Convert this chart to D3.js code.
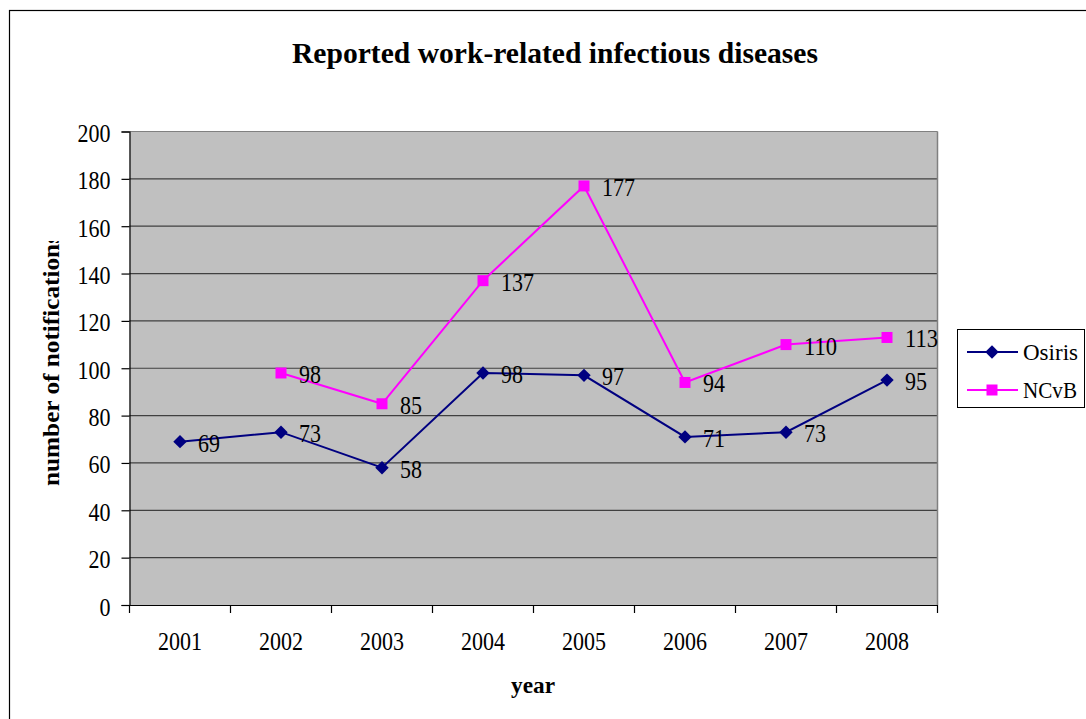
<!DOCTYPE html>
<html><head><meta charset="utf-8">
<script src="https://cdn.jsdelivr.net/npm/d3@7"></script>
<style>body{margin:0;background:#fff}svg{display:block}text{font-family:"Liberation Serif","Times New Roman",serif}</style>
</head><body><svg id="c" width="1086" height="719"></svg>
<script>
const years = ["2001","2002","2003","2004","2005","2006","2007","2008"];
const osiris = [69,73,58,98,97,71,73,95];
const ncvb = [null,98,85,137,177,94,110,113];
const yTicks = [0,20,40,60,80,100,120,140,160,180,200];
const seriesNames = ["Osiris","NCvB"];

const svg = d3.select("#c");
const L=129.5, R=937.5, T=131.5, B=605;
const FS = 25, DW = 11;
const fit = sel => sel.attr("textLength", function(){ return this.textContent.length*DW; }).attr("lengthAdjust","spacingAndGlyphs");
svg.append("rect").attr("x",9.5).attr("y",10.5).attr("width",1200).attr("height",800)
  .attr("fill","none").attr("stroke","#000").attr("stroke-width",1.2);

const x = d3.scaleBand().domain(years).range([L,R]);
const y = d3.scaleLinear().domain([0,200]).range([B,T]);

svg.append("rect").attr("x",L).attr("y",T).attr("width",R-L).attr("height",B-T).attr("fill","#c0c0c0");
svg.append("g").selectAll("line").data(yTicks.filter(d=>d>0)).join("line")
  .attr("x1",L).attr("x2",R).attr("y1",d=>y(d)).attr("y2",d=>y(d))
  .attr("stroke",d=>d===200?"#808080":"#404040").attr("stroke-width",1.2);
svg.append("line").attr("x1",R).attr("x2",R).attr("y1",T).attr("y2",B).attr("stroke","#808080").attr("stroke-width",1.5);

const ya = svg.append("g").attr("transform",`translate(${L},0)`)
  .call(d3.axisLeft(y).tickValues(yTicks).tickSize(8).tickPadding(11));
ya.select(".domain").attr("stroke","#000").attr("stroke-width",1.2);
ya.selectAll(".tick line").attr("stroke","#000").attr("stroke-width",1.2);
ya.selectAll("text").attr("font-size",FS).attr("font-family","Liberation Serif").attr("fill","#000").attr("dy","0.4em").call(fit);
const xa = svg.append("g").attr("transform",`translate(0,${B})`)
  .call(d3.axisBottom(x).tickSize(0).tickPadding(27));
xa.select(".domain").attr("stroke","#000").attr("stroke-width",1.2);
xa.selectAll("text").attr("font-size",FS).attr("font-family","Liberation Serif").attr("fill","#000").call(fit);
xa.selectAll(".bd").data(d3.range(years.length+1)).join("line")
  .attr("x1",i=>L+i*x.bandwidth()).attr("x2",i=>L+i*x.bandwidth()).attr("y1",0).attr("y2",8)
  .attr("stroke","#000").attr("stroke-width",1.2);

const cx = d => x(d)+x.bandwidth()/2;
const line = d3.line().defined(d=>d.v!=null).x(d=>cx(d.k)).y(d=>y(d.v));
const colors = ["#000080","#ff00ff"];
[osiris,ncvb].forEach((arr,si)=>{
  const data = years.map((k,i)=>({k,v:arr[i]}));
  svg.append("path").datum(data).attr("d",line).attr("fill","none").attr("stroke",colors[si]).attr("stroke-width",2);
  const pts = data.filter(d=>d.v!=null);
  if(si===0){
    svg.append("g").selectAll("path").data(pts).join("path")
      .attr("d",d3.symbol(d3.symbolSquare,90)).attr("transform",d=>`translate(${cx(d.k)},${y(d.v)}) rotate(45)`).attr("fill",colors[si]);
  } else {
    svg.append("g").selectAll("rect").data(pts).join("rect")
      .attr("x",d=>cx(d.k)-5.5).attr("y",d=>y(d.v)-5.5).attr("width",11).attr("height",11).attr("fill",colors[si]);
  }
  svg.append("g").selectAll("text").data(pts).join("text")
    .attr("x",d=>cx(d.k)+18).attr("y",d=>y(d.v)+10).attr("font-size",FS).attr("fill","#000").text(d=>d.v).call(fit);
});

svg.append("text").attr("x",555).attr("y",63).attr("text-anchor","middle").attr("font-size",29).attr("font-weight","bold")
  .attr("textLength",526).attr("lengthAdjust","spacingAndGlyphs").text("Reported work-related infectious diseases");
svg.append("text").attr("x",533).attr("y",693).attr("text-anchor","middle").attr("font-size",24).attr("font-weight","bold")
  .attr("textLength",44).attr("lengthAdjust","spacingAndGlyphs").text("year");
svg.append("clipPath").attr("id","yc").append("rect").attr("x",0).attr("y",241).attr("width",120).attr("height",400);
svg.append("g").attr("clip-path","url(#yc)").append("text").attr("transform","translate(59,486) rotate(-90)")
  .attr("font-size",24).attr("font-weight","bold").attr("textLength",252).attr("lengthAdjust","spacingAndGlyphs").text("number of notifications");

const lg = svg.append("g");
lg.append("rect").attr("x",957.5).attr("y",329.5).attr("width",127).attr("height",78).attr("fill","#fff").attr("stroke","#000").attr("stroke-width",1);
const legendW = [55,54];
seriesNames.forEach((n,i)=>{
  const ly = 352 + i*38;
  lg.append("line").attr("x1",967).attr("x2",1018).attr("y1",ly).attr("y2",ly).attr("stroke",colors[i]).attr("stroke-width",2);
  if(i===0) lg.append("path").attr("d",d3.symbol(d3.symbolSquare,90)).attr("transform",`translate(992,${ly}) rotate(45)`).attr("fill",colors[i]);
  else lg.append("rect").attr("x",986.5).attr("y",ly-5.5).attr("width",11).attr("height",11).attr("fill",colors[i]);
  lg.append("text").attr("x",1023).attr("y",ly+8).attr("font-size",24).attr("textLength",legendW[i]).attr("lengthAdjust","spacingAndGlyphs").text(n);
});
</script></body></html>
